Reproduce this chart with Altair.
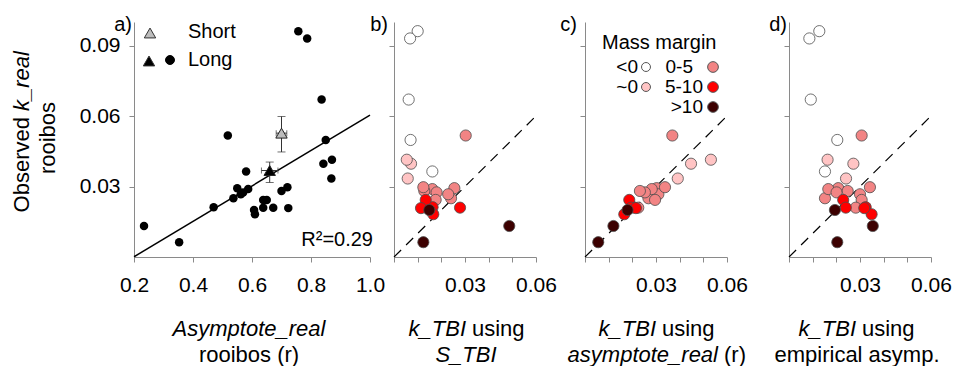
import altair as alt
import pandas as pd

FONT = "Liberation Sans"

# ---------------- data ----------------
k_real = [0.0132, 0.0063, 0.0212, 0.0517, 0.0250, 0.0293, 0.0267, 0.0364, 0.0289, 0.0275,
          0.0200, 0.0182, 0.0243, 0.0243, 0.0210, 0.0210, 0.0281, 0.0297, 0.0208,
          0.0961, 0.0930, 0.0670, 0.0498, 0.0397, 0.0414, 0.0334]
asymptote = [0.234, 0.353, 0.470, 0.518, 0.537, 0.550, 0.562, 0.580, 0.587, 0.570,
             0.607, 0.610, 0.638, 0.650, 0.638, 0.672, 0.700, 0.720, 0.723,
             0.757, 0.787, 0.836, 0.850, 0.842, 0.871, 0.869]
k_tbi_s = [0.0487, 0.0124, 0.0163, 0.0303, 0.0241, 0.0255, 0.0229, 0.0162, 0.0162, 0.0180,
           0.0149, 0.0166, 0.0134, 0.0176, 0.0279, 0.0138, 0.0128, 0.0124, 0.0114,
           0.0100, 0.0068, 0.0062, 0.0070, 0.0072, 0.0054, 0.0058]
k_tbi_asym = [0.0120, 0.0056, 0.0204, 0.0369, 0.0268, 0.0303, 0.0310, None, 0.0282, 0.0253,
              0.0180, 0.0166, 0.0187, 0.0296, 0.0195, 0.0225, 0.0232, 0.0338, 0.0215,
              None, None, None, None, 0.0448, 0.0532, 0.0392]
k_tbi_emp = [0.0354, 0.0204, 0.0324, 0.0307, 0.0152, 0.0208, 0.0300, 0.0152, 0.0166, 0.0201,
             0.0194, 0.0349, 0.0229, 0.0307, 0.0240, 0.0282, 0.0248, 0.0342, 0.0318,
             0.0128, 0.0086, 0.0092, 0.0204, 0.0272, 0.0163, 0.0241]
margin = [">10", ">10", "5-10", "0-5", "0-5", "0-5", "0-5", "<0", "0-5", "0-5",
          ">10", "5-10", "5-10", "0-5", "5-10", "0-5", "0-5", "0-5", "5-10",
          "<0", "<0", "<0", "<0", "~0", "~0", "~0"]

levels = ["<0", "~0", "0-5", "5-10", ">10"]
level_colors = ["#ffffff", "#ffc4c4", "#f28484", "#ff0000", "#3c0000"]

run_type = ["Short", "Long"]
run_colors = ["#bdbdbd", "#000000"]
run_asym = [0.700, 0.660]
run_k = [0.0527, 0.0368]
run_asym_err = [0.018, 0.028]
run_k_lo = [0.0447, 0.0317]
run_k_hi = [0.0598, 0.0404]

fit_asym = [0.2, 1.0]
fit_k = [0.0001, 0.0604]
one_to_one = [0.0, 0.06]

y_ticks = [0.03, 0.06, 0.09]
xa_ticks = [0.2, 0.4, 0.6, 0.8, 1.0]
xk_ticks = [0.0, 0.01, 0.02, 0.03, 0.04, 0.05, 0.06]

# ---------------- tables ----------------
rank = {lv: i for i, lv in enumerate(levels)}
obs = pd.DataFrame({"k": k_real, "asym": asymptote, "kb": k_tbi_s, "kc": k_tbi_asym,
                    "kd": k_tbi_emp, "margin": margin})
obs["rank"] = obs["margin"].map(rank)
obs = obs.sort_values("rank", kind="stable")

df_a = pd.DataFrame({"x": obs["asym"], "y": obs["k"]})
df_b = pd.DataFrame({"x": obs["kb"], "y": obs["k"], "margin": obs["margin"]})
df_c = pd.DataFrame({"x": obs["kc"], "y": obs["k"], "margin": obs["margin"]}).dropna()
df_d = pd.DataFrame({"x": obs["kd"], "y": obs["k"], "margin": obs["margin"]})
df_fit = pd.DataFrame({"x": fit_asym, "y": fit_k})
df_one = pd.DataFrame({"x": one_to_one, "y": one_to_one})
df_run = pd.DataFrame({
    "x": run_asym, "y": run_k,
    "xlo": [a - e for a, e in zip(run_asym, run_asym_err)],
    "xhi": [a + e for a, e in zip(run_asym, run_asym_err)],
    "ylo": run_k_lo, "yhi": run_k_hi, "run": run_type,
})
one = pd.DataFrame({"d": [0]})

# ---------------- encodings ----------------
AX = dict(domainColor="#8a8a8a", tickColor="#8a8a8a", domainWidth=1, tickWidth=1, tickSize=5,
          labelFont=FONT, labelFontSize=21, labelColor="black", grid=False,
          labelFlush=False, labelOverlap=False, title=None)

Y_SCALE = alt.Scale(domain=[0, 0.1], nice=False, zero=False)
XA_SCALE = alt.Scale(domain=[0.2, 1.0], range=[0, 236], nice=False, zero=False)
XK_SCALE = alt.Scale(domain=[0, 0.06], range=[0, 142], nice=False, zero=False)
LABEL_EXPR = ("(abs(datum.value-0.03)<1e-9 || abs(datum.value-0.06)<1e-9) ? "
              "format(datum.value, '.2f') : ''")


def yenc(field, labels):
    return alt.Y(f"{field}:Q", scale=Y_SCALE,
                 axis=alt.Axis(values=y_ticks, format=".2f", labels=labels, labelPadding=9, **AX))


def xa(field):
    return alt.X(f"{field}:Q", scale=XA_SCALE,
                 axis=alt.Axis(values=xa_ticks, format=".1f", labelPadding=12, **AX))


def xk(field):
    return alt.X(f"{field}:Q", scale=XK_SCALE,
                 axis=alt.Axis(values=xk_ticks, labelExpr=LABEL_EXPR, labelPadding=12, **AX))


def txt(s, x, y, size=22, align="center", italic=False, angle=0):
    props = dict(text=s, align=align, baseline="middle", font=FONT, fontSize=size, color="black")
    if italic:
        props["fontStyle"] = "italic"
    if angle:
        props["angle"] = angle
    return alt.Chart(one).mark_text(**props).encode(x=alt.value(x), y=alt.value(y))


def sym(x, y, shape, fill, size, stroke="#333333"):
    return alt.Chart(one).mark_point(shape=shape, filled=True, fill=fill, stroke=stroke,
                                     strokeWidth=1, size=size, opacity=1).encode(
        x=alt.value(x), y=alt.value(y))


FILL = alt.Fill("margin:N", scale=alt.Scale(domain=levels, range=level_colors), legend=None)

# ---------------- panel a ----------------
fit_line = alt.Chart(df_fit).mark_line(color="black", strokeWidth=1.5).encode(x=xa("x"), y=yenc("y", True))
pts_a = alt.Chart(df_a).mark_circle(size=72, color="black", opacity=1).encode(x=xa("x"), y=yenc("y", True))
ebar_col = "#333333"
vbar = alt.Chart(df_run).mark_rule(color=ebar_col, strokeWidth=1).encode(
    x=xa("x"), y=yenc("ylo", True), y2="yhi:Q")
hbar = alt.Chart(df_run).mark_rule(color=ebar_col, strokeWidth=1).encode(
    x=xa("xlo"), x2="xhi:Q", y=yenc("y", True))
cap_lo = alt.Chart(df_run).mark_tick(orient="horizontal", size=8, thickness=1, color=ebar_col).encode(
    x=xa("x"), y=yenc("ylo", True))
cap_hi = alt.Chart(df_run).mark_tick(orient="horizontal", size=8, thickness=1, color=ebar_col).encode(
    x=xa("x"), y=yenc("yhi", True))
cap_l = alt.Chart(df_run).mark_tick(orient="vertical", size=6, thickness=1, color=ebar_col).encode(
    x=xa("xlo"), y=yenc("y", True))
cap_r = alt.Chart(df_run).mark_tick(orient="vertical", size=6, thickness=1, color=ebar_col).encode(
    x=xa("xhi"), y=yenc("y", True))
tris = alt.Chart(df_run).mark_point(shape="triangle-up", filled=True, size=130, stroke="#222222",
                                    strokeWidth=1, opacity=1).encode(
    x=xa("x"), y=yenc("y", True),
    fill=alt.Fill("run:N", scale=alt.Scale(domain=run_type, range=run_colors), legend=None))

panel_a = alt.layer(
    fit_line, pts_a, vbar, hbar, cap_lo, cap_hi, cap_l, cap_r, tris,
    sym(16, 11, "triangle-up", "#bdbdbd", 130),
    sym(15, 39, "triangle-up", "#000000", 130),
    sym(36, 38, "circle", "#000000", 80, stroke="#000000"),
    txt("Short", 54, 10, size=20, align="left"),
    txt("Long", 54, 38, size=20, align="left"),
    txt("R²=0.29", 239, 218, size=20, align="right"),
    txt("a)", -2, 3, size=20, align="right"),
    txt("Asymptote_real", 115, 307, italic=True),
    txt("rooibos (r)", 115, 333),
    txt("Observed", -112, 95, align="right", angle=270),
    txt("k_real", -112, 89, align="left", italic=True, angle=270),
    txt("rooibos", -86, 116, angle=270),
).properties(width=260, height=235)


# ---------------- panels b-d ----------------
def k_panel(df, letter, letter_x, width, extra):
    dashed = alt.Chart(df_one).mark_line(color="black", strokeWidth=1.2, strokeDash=[10, 7]).encode(
        x=xk("x"), y=yenc("y", False))
    pts = alt.Chart(df).mark_circle(size=125, stroke="#4d4d4d", strokeWidth=0.8, opacity=1).encode(
        x=xk("x"), y=yenc("y", False), fill=FILL)
    return alt.layer(dashed, pts, txt(letter, letter_x, 3, size=20, align="right"), *extra).properties(
        width=width, height=235)


panel_b = k_panel(df_b, "b)", -6, 191, [
    txt("k_TBI", 72, 307, italic=True, align="right"),
    txt("using", 78, 307, align="left"),
    txt("S_TBI", 72, 333, italic=True),
])

LEG = 19
legend_c = [
    txt("Mass margin", 17, 21, size=20, align="left"),
    txt("<0", 53, 45, size=LEG, align="right"),
    txt("~0", 53, 65, size=LEG, align="right"),
    txt("0-5", 108, 45, size=LEG, align="right"),
    txt("5-10", 118, 65, size=LEG, align="right"),
    txt(">10", 118, 85, size=LEG, align="right"),
    sym(61, 45, "circle", level_colors[0], 80, stroke="#555555"),
    sym(61, 65, "circle", level_colors[1], 80, stroke="#555555"),
    sym(128, 45, "circle", level_colors[2], 115, stroke="#555555"),
    sym(128, 65, "circle", level_colors[3], 115, stroke="#555555"),
    sym(128, 85, "circle", level_colors[4], 115, stroke="#555555"),
]

panel_c = k_panel(df_c, "c)", -8, 204, legend_c + [
    txt("k_TBI", 71, 307, italic=True, align="right"),
    txt("using", 77, 307, align="left"),
    txt("asymptote_real", 133, 333, italic=True, align="right"),
    txt("(r)", 139, 333, align="left"),
])

panel_d = k_panel(df_d, "d)", -2, 142, [
    txt("k_TBI", 67, 307, italic=True, align="right"),
    txt("using", 73, 307, align="left"),
    txt("empirical asymp.", 68, 333),
])

chart = alt.hconcat(panel_a, panel_b, panel_c, panel_d, spacing=0, bounds="flush").resolve_scale(
    fill="independent"
).properties(
    padding={"left": 11, "top": 15, "right": 0, "bottom": 0}
).configure_view(strokeOpacity=0)

chart.save("out.html", embed_options={"renderer": "svg", "actions": False})
